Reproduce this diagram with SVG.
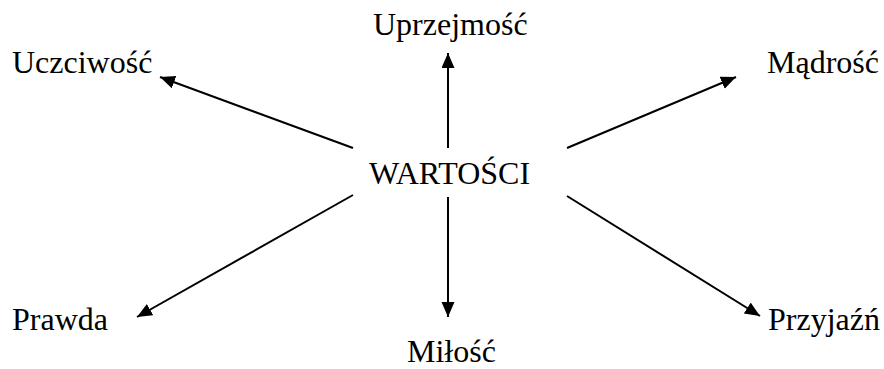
<svg xmlns="http://www.w3.org/2000/svg" width="884" height="369" viewBox="0 0 884 369">
<style>
.t{font-family:'Liberation Serif','Times New Roman',Times,serif;font-size:32px;fill:#000}
.c{stroke:#000;stroke-width:2;fill:none;marker-end:url(#ah)}
</style>
<defs>
<marker id="ah" markerUnits="userSpaceOnUse" markerWidth="16" markerHeight="14" refX="15" refY="6.5" orient="auto">
<path d="M0,0 L15,6.5 L0,13 z" fill="#000"/>
</marker>
</defs>
<rect width="884" height="369" fill="#fff"/>
<g id="connectors">
<line class="c" x1="448" y1="148" x2="448" y2="53"/>
<line class="c" x1="448" y1="197" x2="448" y2="317"/>
<line class="c" x1="353" y1="148" x2="160" y2="77"/>
<line class="c" x1="567" y1="148" x2="736" y2="77"/>
<line class="c" x1="353" y1="195" x2="137" y2="317"/>
<line class="c" x1="567" y1="196" x2="760" y2="316"/>
</g>
<g font-family="Liberation Serif, serif">
<g id="center"><text class="t" x="369" y="184">WARTOŚCI</text></g>
<g id="uprzejmosc"><text class="t" x="373" y="35">Uprzejmość</text></g>
<g id="uczciwosc"><text class="t" x="12" y="73">Uczciwość</text></g>
<g id="madrosc"><text class="t" x="767" y="73">Mądrość</text></g>
<g id="prawda"><text class="t" x="12" y="330">Prawda</text></g>
<g id="przyjazn"><text class="t" x="768" y="330">Przyjaźń</text></g>
<g id="milosc"><text class="t" x="407" y="362">Miłość</text></g>
</g>
</svg>
